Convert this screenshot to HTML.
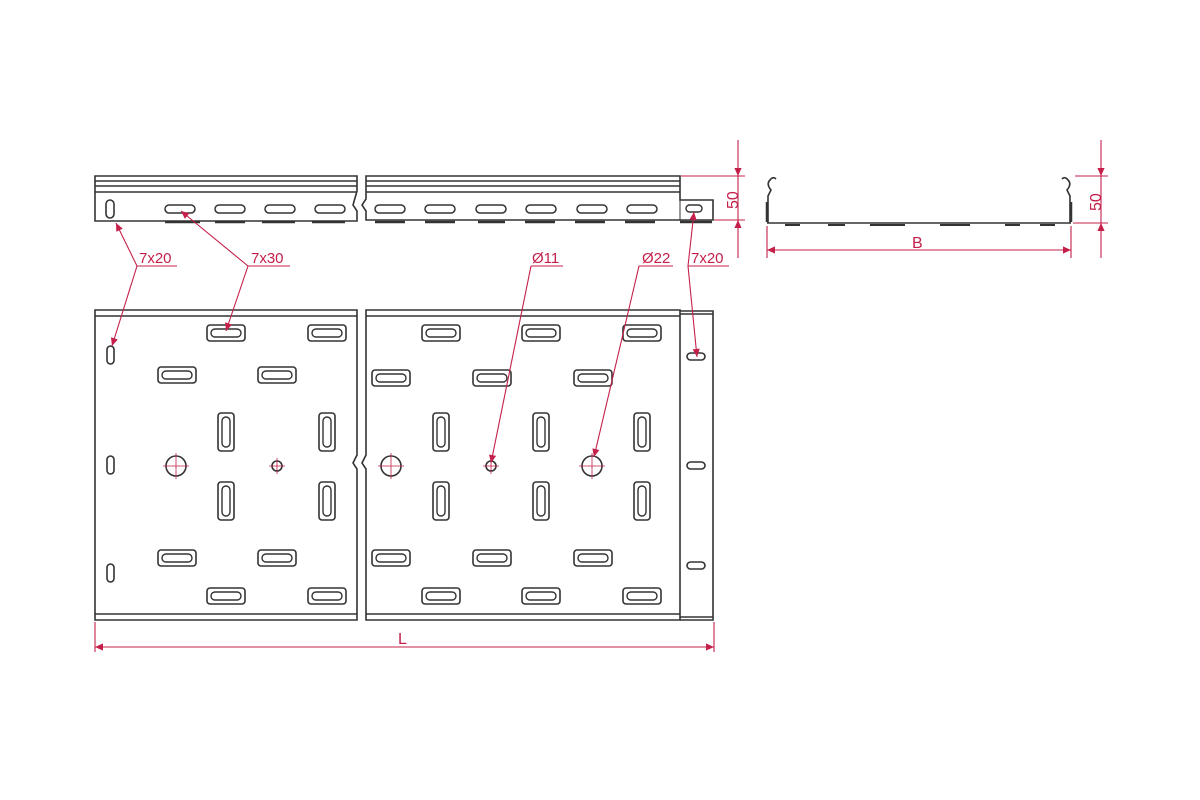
<!DOCTYPE html>
<html><head><meta charset="utf-8"><style>
html,body{margin:0;padding:0;background:#fff;}
svg{display:block;}
text{font-family:"Liberation Sans",sans-serif;fill:#c4204a;}
</style></head><body>
<svg width="1200" height="800" viewBox="0 0 1200 800" xmlns="http://www.w3.org/2000/svg">
<defs>
<marker id="a" viewBox="0 0 10 10" refX="10" refY="5" markerWidth="17" markerHeight="8" markerUnits="userSpaceOnUse" orient="auto"><path d="M0,0.5 L10,5 L0,9.5 z" fill="#c4204a"/></marker>
<g id="hs"><rect x="-19" y="-8" width="38" height="16" rx="3" fill="none" stroke="#333" stroke-width="1.6"/><rect x="-15" y="-4" width="30" height="8" rx="4" fill="none" stroke="#333" stroke-width="1.4"/></g>
<g id="vs"><rect x="-8" y="-19" width="16" height="38" rx="3" fill="none" stroke="#333" stroke-width="1.6"/><rect x="-4" y="-15" width="8" height="30" rx="4" fill="none" stroke="#333" stroke-width="1.4"/></g>
<g id="ts"><rect x="-15" y="-4" width="30" height="8" rx="4" fill="none" stroke="#333" stroke-width="1.5"/></g>
</defs>
<g fill="none" stroke="#333" stroke-width="1.6">
<path d="M95,176 H357 V191 L353,205 L357,211 V221 H95 Z"/>
<path d="M95,181 H357 M95,186 H357 M95,192 H357"/>
<path d="M366,176 H680 V200 H713 V220 H366 V211 L362,205 L366,199 Z"/>
<path d="M366,181 H680 M366,186 H680 M366,192 H680"/>
<path d="M680,200 V220" stroke-width="1"/>
<rect x="106" y="200" width="8" height="18" rx="4"/>
<g stroke-width="2.5">
<path d="M165,222 H200 M215,222 H245 M262,222 H295 M312,222 H345 M375,222 H405 M425,222 H455 M478,222 H505 M525,222 H555 M575,222 H605 M625,222 H655 M680,222 H712"/>
</g>
</g>
<use href="#ts" x="180" y="209"/><use href="#ts" x="230" y="209"/><use href="#ts" x="280" y="209"/><use href="#ts" x="330" y="209"/>
<use href="#ts" x="390" y="209"/><use href="#ts" x="440" y="209"/><use href="#ts" x="491" y="209"/><use href="#ts" x="541" y="209"/><use href="#ts" x="592" y="209"/><use href="#ts" x="642" y="209"/>
<rect x="686" y="205" width="16" height="7" rx="3.5" fill="none" stroke="#333" stroke-width="1.4"/>

<g fill="none" stroke="#333" stroke-width="1.6">
<path d="M767,223 H1071"/>
<path d="M768,223 V196 L771,190 Q766,184 770,180 Q773,176 776,179"/>
<path d="M1070,223 V196 L1067,190 Q1072,184 1068,180 Q1065,176 1062,179"/>
<path d="M767,202 V222 M1071,202 V222" stroke-width="2.5"/>
<path d="M785,225 H800 M828,225 H845 M870,225 H905 M940,225 H970 M1005,225 H1020 M1040,225 H1055" stroke-width="2"/>
</g>

<g fill="none" stroke="#333" stroke-width="1.6">
<path d="M95,310 H357 V455 L353,463 L357,469 V620 H95 Z"/>
<path d="M95,316 H357 M95,614 H357"/>
<path d="M366,310 H680 V620 H366 V469 L362,463 L366,455 Z"/>
<path d="M366,316 H680 M366,614 H680"/>
<path d="M680,311 H713 V620 H680 M680,314 H713 M680,617 H713"/>
<rect x="107" y="346" width="7" height="18" rx="3.5"/>
<rect x="107" y="456" width="7" height="18" rx="3.5"/>
<rect x="107" y="564" width="7" height="18" rx="3.5"/>
<rect x="687" y="353" width="18" height="7" rx="3.5"/>
<rect x="687" y="462" width="18" height="7" rx="3.5"/>
<rect x="687" y="562" width="18" height="7" rx="3.5"/>
<circle cx="176" cy="466" r="10"/><circle cx="277" cy="466" r="5"/>
<circle cx="391" cy="466" r="10"/><circle cx="491" cy="466" r="5"/><circle cx="592" cy="466" r="10"/>
</g>
<g stroke="#c4204a" stroke-width="0.8">
<path d="M163,466 H189 M176,453 V479 M269,466 H285 M277,458 V474 M378,466 H404 M391,453 V479 M483,466 H499 M491,458 V474 M579,466 H605 M592,453 V479"/>
</g>
<use href="#hs" x="226" y="333"/><use href="#hs" x="327" y="333"/>
<use href="#hs" x="177" y="375"/><use href="#hs" x="277" y="375"/>
<use href="#vs" x="226" y="432"/><use href="#vs" x="327" y="432"/>
<use href="#vs" x="226" y="501"/><use href="#vs" x="327" y="501"/>
<use href="#hs" x="177" y="558"/><use href="#hs" x="277" y="558"/>
<use href="#hs" x="226" y="596"/><use href="#hs" x="327" y="596"/>
<use href="#hs" x="441" y="333"/><use href="#hs" x="541" y="333"/><use href="#hs" x="642" y="333"/>
<use href="#hs" x="391" y="378"/><use href="#hs" x="492" y="378"/><use href="#hs" x="593" y="378"/>
<use href="#vs" x="441" y="432"/><use href="#vs" x="541" y="432"/><use href="#vs" x="642" y="432"/>
<use href="#vs" x="441" y="501"/><use href="#vs" x="541" y="501"/><use href="#vs" x="642" y="501"/>
<use href="#hs" x="391" y="558"/><use href="#hs" x="492" y="558"/><use href="#hs" x="593" y="558"/>
<use href="#hs" x="441" y="596"/><use href="#hs" x="541" y="596"/><use href="#hs" x="642" y="596"/>

<g stroke="#c4204a" stroke-width="1.1" fill="none">
<path d="M681,176 H745 M714,220 H745"/>
<path d="M738,140 V176" marker-end="url(#a)"/>
<path d="M738,258 V220" marker-end="url(#a)"/>
<path d="M738,176 V220"/>
<path d="M1075,176 H1108 M1073,223 H1108"/>
<path d="M1101,140 V176" marker-end="url(#a)"/>
<path d="M1101,258 V223" marker-end="url(#a)"/>
<path d="M1101,176 V223"/>
<path d="M767,226 V258 M1071,226 V258"/>
<path d="M919,250 H767" marker-end="url(#a)"/>
<path d="M919,250 H1071" marker-end="url(#a)"/>
<path d="M95,622 V652 M714,622 V652"/>
<path d="M404,647 H95" marker-end="url(#a)"/>
<path d="M404,647 H714" marker-end="url(#a)"/>
<path d="M137,266 H177 M248,266 H290 M531,266 H563 M639,266 H673 M688,266 H729"/>
<path d="M137,266 L116,223" marker-end="url(#a)"/>
<path d="M137,266 L112,346" marker-end="url(#a)"/>
<path d="M248,266 L181,211" marker-end="url(#a)"/>
<path d="M248,266 L226,331" marker-end="url(#a)"/>
<path d="M531,266 L491,463" marker-end="url(#a)"/>
<path d="M639,266 L594,457" marker-end="url(#a)"/>
<path d="M688,266 L694,212" marker-end="url(#a)"/>
<path d="M688,266 L697,357" marker-end="url(#a)"/>
</g>
<g font-size="15">
<text x="139" y="263">7x20</text>
<text x="251" y="263">7x30</text>
<text x="532" y="263">Ø11</text>
<text x="642" y="263">Ø22</text>
<text x="691" y="263">7x20</text>
<text x="912" y="248" font-size="16">B</text>
<text x="398" y="644" font-size="16">L</text>
<text transform="translate(738,209) rotate(-90)" font-size="16">50</text>
<text transform="translate(1101,211) rotate(-90)" font-size="16">50</text>
</g>
</svg>
</body></html>
